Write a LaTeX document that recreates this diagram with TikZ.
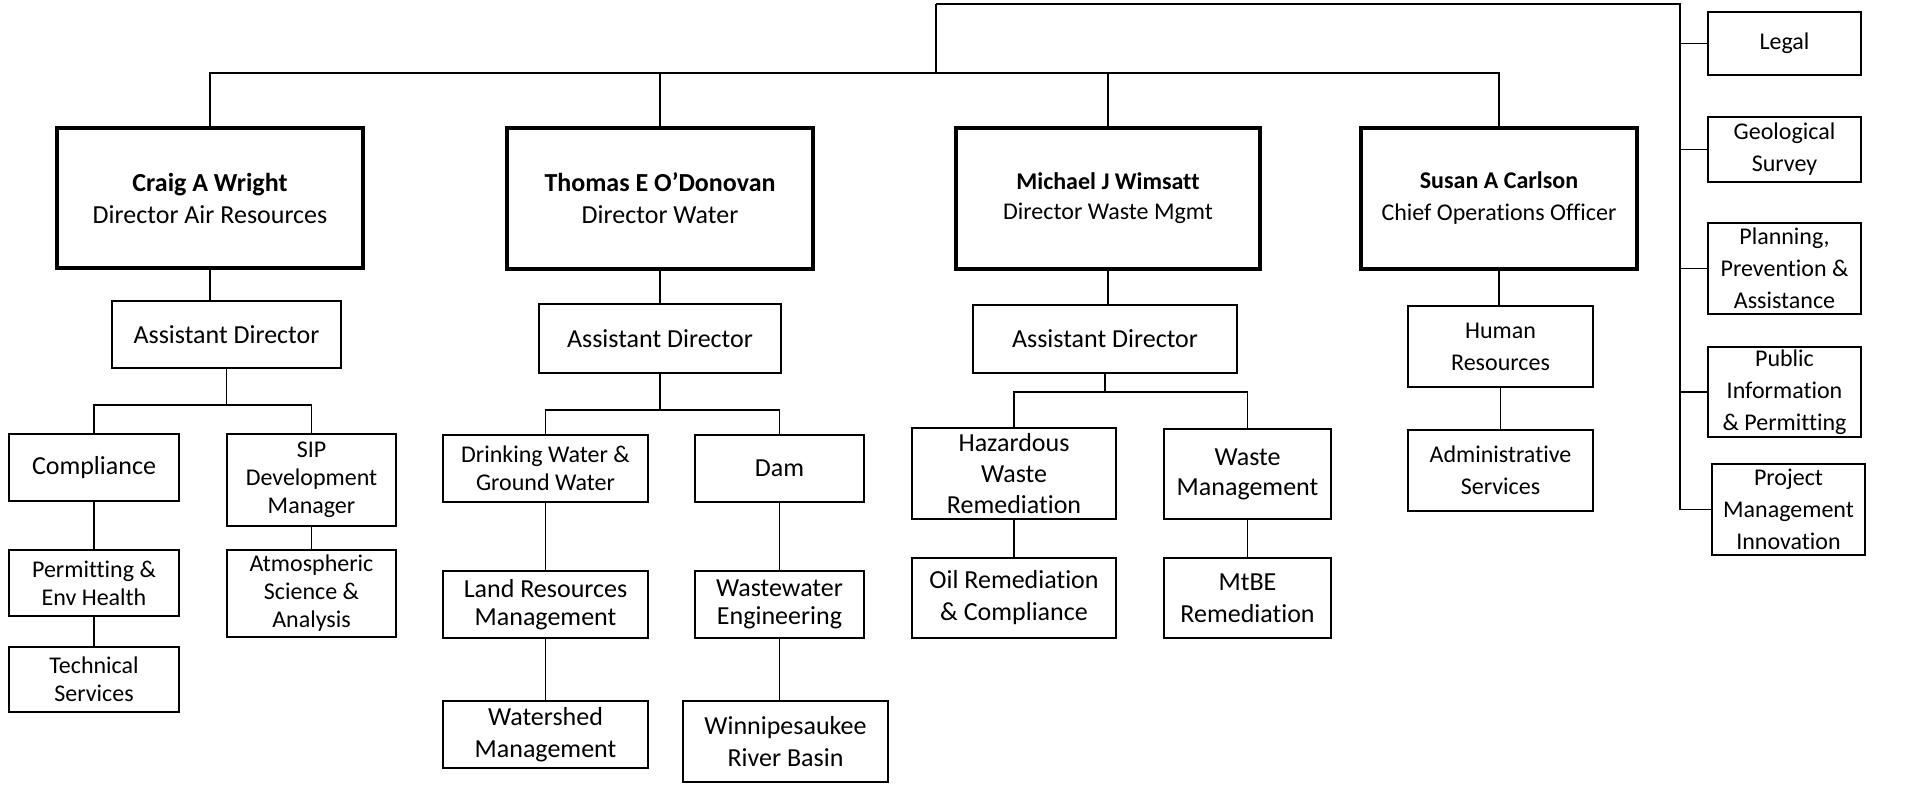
\documentclass[tikz,border=0pt]{standalone}
\usepackage{fontspec}
\setmainfont{Carlito}[Ligatures={TeX,NoCommon}]
\usepackage{tikz}

\begin{document}
\begin{tikzpicture}[x=1pt,y=-1pt,line width=1.6pt]
  \tikzstyle{director}=[draw,line width=3.5pt,align=center,inner sep=2pt,font=\fontsize{26}{32}\selectfont]
  \tikzstyle{unit}=[draw,line width=2.8pt,align=center,inner sep=2pt,font=\fontsize{26}{32}\selectfont]
  \tikzstyle{smalltext}=[font=\fontsize{24}{28}\selectfont]
  \tikzstyle{sidetext}=[font=\fontsize{24}{32}\selectfont]
  \useasboundingbox (0,0) rectangle (1929,786);
  \node[director,minimum width=306pt,minimum height=140pt] (D_1) at (210,198) {\textbf{Craig A Wright}\\Director Air Resources};
  \node[director,minimum width=306pt,minimum height=141pt] (D_2) at (660,198.5) {\textbf{Thomas E O’Donovan}\\Director Water};
  \node[director,minimum width=304pt,minimum height=141pt,font=\fontsize{24}{30}\selectfont] (D_3) at (1108,198.5) {\textbf{Michael J Wimsatt}\\Director Waste Mgmt};
  \node[director,sidetext,minimum width=276pt,minimum height=141pt] (D_4) at (1499,198.5) {\textbf{Susan A Carlson}\\Chief Operations Officer};
  \node[unit,minimum width=229pt,minimum height=67pt] (A_1) at (226.5,334.5) {Assistant Director};
  \node[unit,minimum width=242pt,minimum height=69pt] (A_2) at (660,338.5) {Assistant Director};
  \node[unit,minimum width=264pt,minimum height=68pt] (A_3) at (1105,339) {Assistant Director};
  \node[unit,sidetext,minimum width=185pt,minimum height=81pt] (H_1) at (1500.5,346.5) {Human\\Resources};
  \node[unit,minimum width=170pt,minimum height=67pt] (C_1) at (94,467.5) {Compliance};
  \node[unit,smalltext,minimum width=170pt,minimum height=66pt] (C_2) at (94,583) {Permitting \&\\Env Health};
  \node[unit,smalltext,minimum width=170pt,minimum height=65pt] (C_3) at (94,679.5) {Technical\\Services};
  \node[unit,smalltext,minimum width=169pt,minimum height=92pt] (S_1) at (311.5,480) {SIP\\Development\\Manager};
  \node[unit,smalltext,minimum width=169pt,minimum height=87pt] (S_2) at (311.5,593.5) {Atmospheric\\Science \&\\Analysis};
  \node[unit,smalltext,minimum width=205pt,minimum height=67pt] (W_1) at (545.5,468.5) {Drinking Water \&\\Ground Water};
  \node[unit,minimum width=205pt,minimum height=67pt,font=\fontsize{26}{28}\selectfont] (W_2) at (545.5,604.5) {Land Resources\\Management};
  \node[unit,minimum width=205pt,minimum height=67pt] (W_3) at (545.5,734.5) {Watershed\\Management};
  \node[unit,minimum width=169pt,minimum height=67pt] (M_1) at (779.5,468.5) {Dam};
  \node[unit,minimum width=169pt,minimum height=67pt,font=\fontsize{26}{28}\selectfont] (M_2) at (779.5,604.5) {Wastewater\\Engineering};
  \node[unit,minimum width=205pt,minimum height=81pt] (M_3) at (785.5,741.5) {Winnipesaukee\\River Basin};
  \node[unit,minimum width=204pt,minimum height=91pt,font=\fontsize{26}{31}\selectfont] (Z_1) at (1014,473.5) {Hazardous\\Waste\\Remediation};
  \node[unit,minimum width=204pt,minimum height=80pt] (Z_2) at (1014,598) {Oil Remediation\\\& Compliance};
  \node[unit,minimum width=167pt,minimum height=90pt,font=\fontsize{26}{30}\selectfont] (Y_1) at (1247.5,474) {Waste\\Management};
  \node[unit,minimum width=167pt,minimum height=80pt] (Y_2) at (1247.5,598) {MtBE\\Remediation};
  \node[unit,sidetext,minimum width=185pt,minimum height=81pt] (H_2) at (1500.5,470.5) {Administrative\\Services};
  \node[unit,sidetext,minimum width=153pt,minimum height=63pt] (R_1) at (1784.5,43.5) {Legal};
  \node[unit,sidetext,minimum width=153pt,minimum height=65pt] (R_2) at (1784.5,149.5) {Geological\\Survey};
  \node[unit,sidetext,minimum width=153pt,minimum height=91pt] (R_3) at (1784.5,268.5) {Planning,\\Prevention \&\\Assistance};
  \node[unit,sidetext,minimum width=153pt,minimum height=90pt] (R_4) at (1784.5,392) {Public\\Information\\\& Permitting};
  \node[unit,sidetext,minimum width=153pt,minimum height=91pt] (R_5) at (1788.5,509.5) {Project\\Management\\Innovation};
  \coordinate (T0) at (936,4);
  \coordinate (T) at (936,73);
  \coordinate (R0) at (1680,4);
  \coordinate (b_1) at (226.5,405);
  \coordinate (b_2) at (660,410);
  \coordinate (b_3) at (1105,392);
  \draw (T0) -- (T);
  \draw (D_1.north) |- (T) -| (D_4.north);
  \draw (D_2.north) -- (D_2.north |- T);
  \draw (D_3.north) -- (D_3.north |- T);
  \draw (T0) -- (R0) |- (R_5.west);
  \draw (R_1.west) -- (R_1.west -| R0);
  \draw (R_2.west) -- (R_2.west -| R0);
  \draw (R_3.west) -- (R_3.west -| R0);
  \draw (R_4.west) -- (R_4.west -| R0);
  \draw (D_1.south) -- (D_1.south |- A_1.north);
  \draw (D_2) -- (A_2);
  \draw (D_3.south) -- (D_3.south |- A_3.north);
  \draw (D_4.south) -- (D_4.south |- H_1.north);
  \draw (H_1) -- (H_2);
  \draw (A_1.south) -- (b_1);
  \draw (C_1.north) |- (b_1) -| (S_1.north);
  \draw (A_2.south) -- (b_2);
  \draw (W_1.north) |- (b_2) -| (M_1.north);
  \draw (A_3.south) -- (b_3);
  \draw (Z_1.north) |- (b_3) -| (Y_1.north);
  \draw (C_1) -- (C_2) -- (C_3);
  \draw (S_1) -- (S_2);
  \draw (W_1) -- (W_2) -- (W_3);
  \draw (M_1) -- (M_2);
  \draw (M_2.south) -- (M_2.south |- M_3.north);
  \draw (Z_1) -- (Z_2);
  \draw (Y_1) -- (Y_2);
\end{tikzpicture}
\end{document}
